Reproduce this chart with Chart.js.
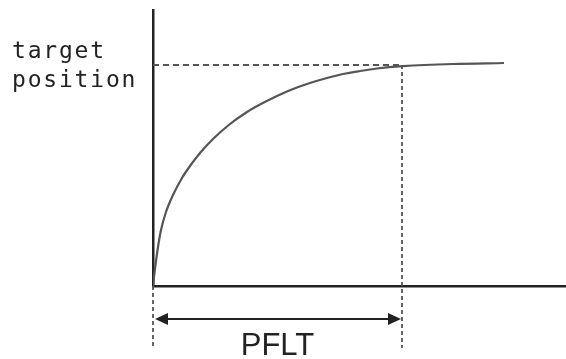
<!DOCTYPE html>
<html><head><meta charset="utf-8">
<script src="https://cdn.jsdelivr.net/npm/chart.js@4/dist/chart.umd.min.js"></script>
<style>html,body{margin:0;padding:0;background:#fff;}#wrap{width:566px;height:359px;}</style>
</head><body><div id="wrap"><canvas id="c" width="566" height="359"></canvas></div>
<script>
// Curve: time (x) vs position (y), arbitrary units
const curveX = [0, 1, 2, 3, 5, 8, 13, 20, 29, 37, 47, 60, 77, 94, 107, 124, 140, 157, 174, 190, 207, 224, 250, 300, 351];
const curveY = [0, 9, 17, 25, 39, 56, 74, 91, 108, 120, 133, 147, 162, 174, 181.5, 190, 197, 203, 208, 212, 215, 217.5, 219.8, 222, 223];
const targetY = 221;     // target position level
const pfltX = 249;       // time at which target is reached
const xMax = 413, yMax = 276;
const labelTarget = ["target", "position"];
const labelPFLT = "PFLT";

const pts = curveX.map((x, i) => ({x, y: curveY[i]}));
const dashStyle = {borderColor: '#555', borderWidth: 1.8, pointRadius: 0, fill: false, clip: false, tension: 0};

const annot = {
  id: 'annot',
  afterDraw(chart) {
    const ctx = chart.ctx, xs = chart.scales.x, ys = chart.scales.y;
    const ay = ys.getPixelForValue(-33);
    const x0 = xs.getPixelForValue(0) + 2, x1 = xs.getPixelForValue(pfltX) - 1;
    ctx.save();
    ctx.strokeStyle = '#222'; ctx.fillStyle = '#222'; ctx.lineWidth = 2;
    ctx.beginPath(); ctx.moveTo(x0 + 8, ay); ctx.lineTo(x1 - 8, ay); ctx.stroke();
    ctx.beginPath(); ctx.moveTo(x0, ay); ctx.lineTo(x0 + 13, ay - 6); ctx.lineTo(x0 + 13, ay + 6); ctx.closePath(); ctx.fill();
    ctx.beginPath(); ctx.moveTo(x1, ay); ctx.lineTo(x1 - 13, ay - 6); ctx.lineTo(x1 - 13, ay + 6); ctx.closePath(); ctx.fill();
    // PFLT label
    ctx.font = '31px "Liberation Sans", Arial, sans-serif';
    ctx.textAlign = 'center'; ctx.textBaseline = 'alphabetic';
    ctx.fillText(labelPFLT, xs.getPixelForValue(pfltX / 2), ys.getPixelForValue(-69));
    // target position label
    ctx.font = '23px "DejaVu Sans Mono", monospace';
    ctx.textAlign = 'left';
    try { ctx.letterSpacing = '1.8px'; } catch (e) {}
    const ty = ys.getPixelForValue(targetY);
    ctx.fillText(labelTarget[0], 12, ty - 7);
    ctx.fillText(labelTarget[1], 12, ty + 22);
    ctx.restore();
  }
};

new Chart(document.getElementById('c'), {
  type: 'line',
  data: {
    datasets: [
      {data: pts, borderColor: '#555', borderWidth: 2.2, pointRadius: 0, fill: false, cubicInterpolationMode: 'monotone'},
      Object.assign({data: [{x: 0, y: targetY}, {x: pfltX, y: targetY}], borderDash: [6, 4]}, dashStyle),
      Object.assign({data: [{x: pfltX, y: targetY}, {x: pfltX, y: -62}], borderDash: [4, 3]}, dashStyle),
      Object.assign({data: [{x: 0, y: 0}, {x: 0, y: -62}], borderDash: [4, 3]}, dashStyle)
    ]
  },
  options: {
    responsive: false, animation: false, devicePixelRatio: 1,
    layout: {padding: {left: 153, top: 10, right: 0, bottom: 73}},
    plugins: {legend: {display: false}, tooltip: {enabled: false}, title: {display: false}},
    scales: {
      x: {type: 'linear', min: 0, max: xMax, ticks: {display: false}, grid: {display: false, drawTicks: false},
          border: {display: true, color: '#222', width: 2.5}},
      y: {type: 'linear', min: 0, max: yMax, ticks: {display: false}, grid: {display: false, drawTicks: false},
          border: {display: true, color: '#222', width: 2.5}}
    }
  },
  plugins: [annot]
});
</script></body></html>
